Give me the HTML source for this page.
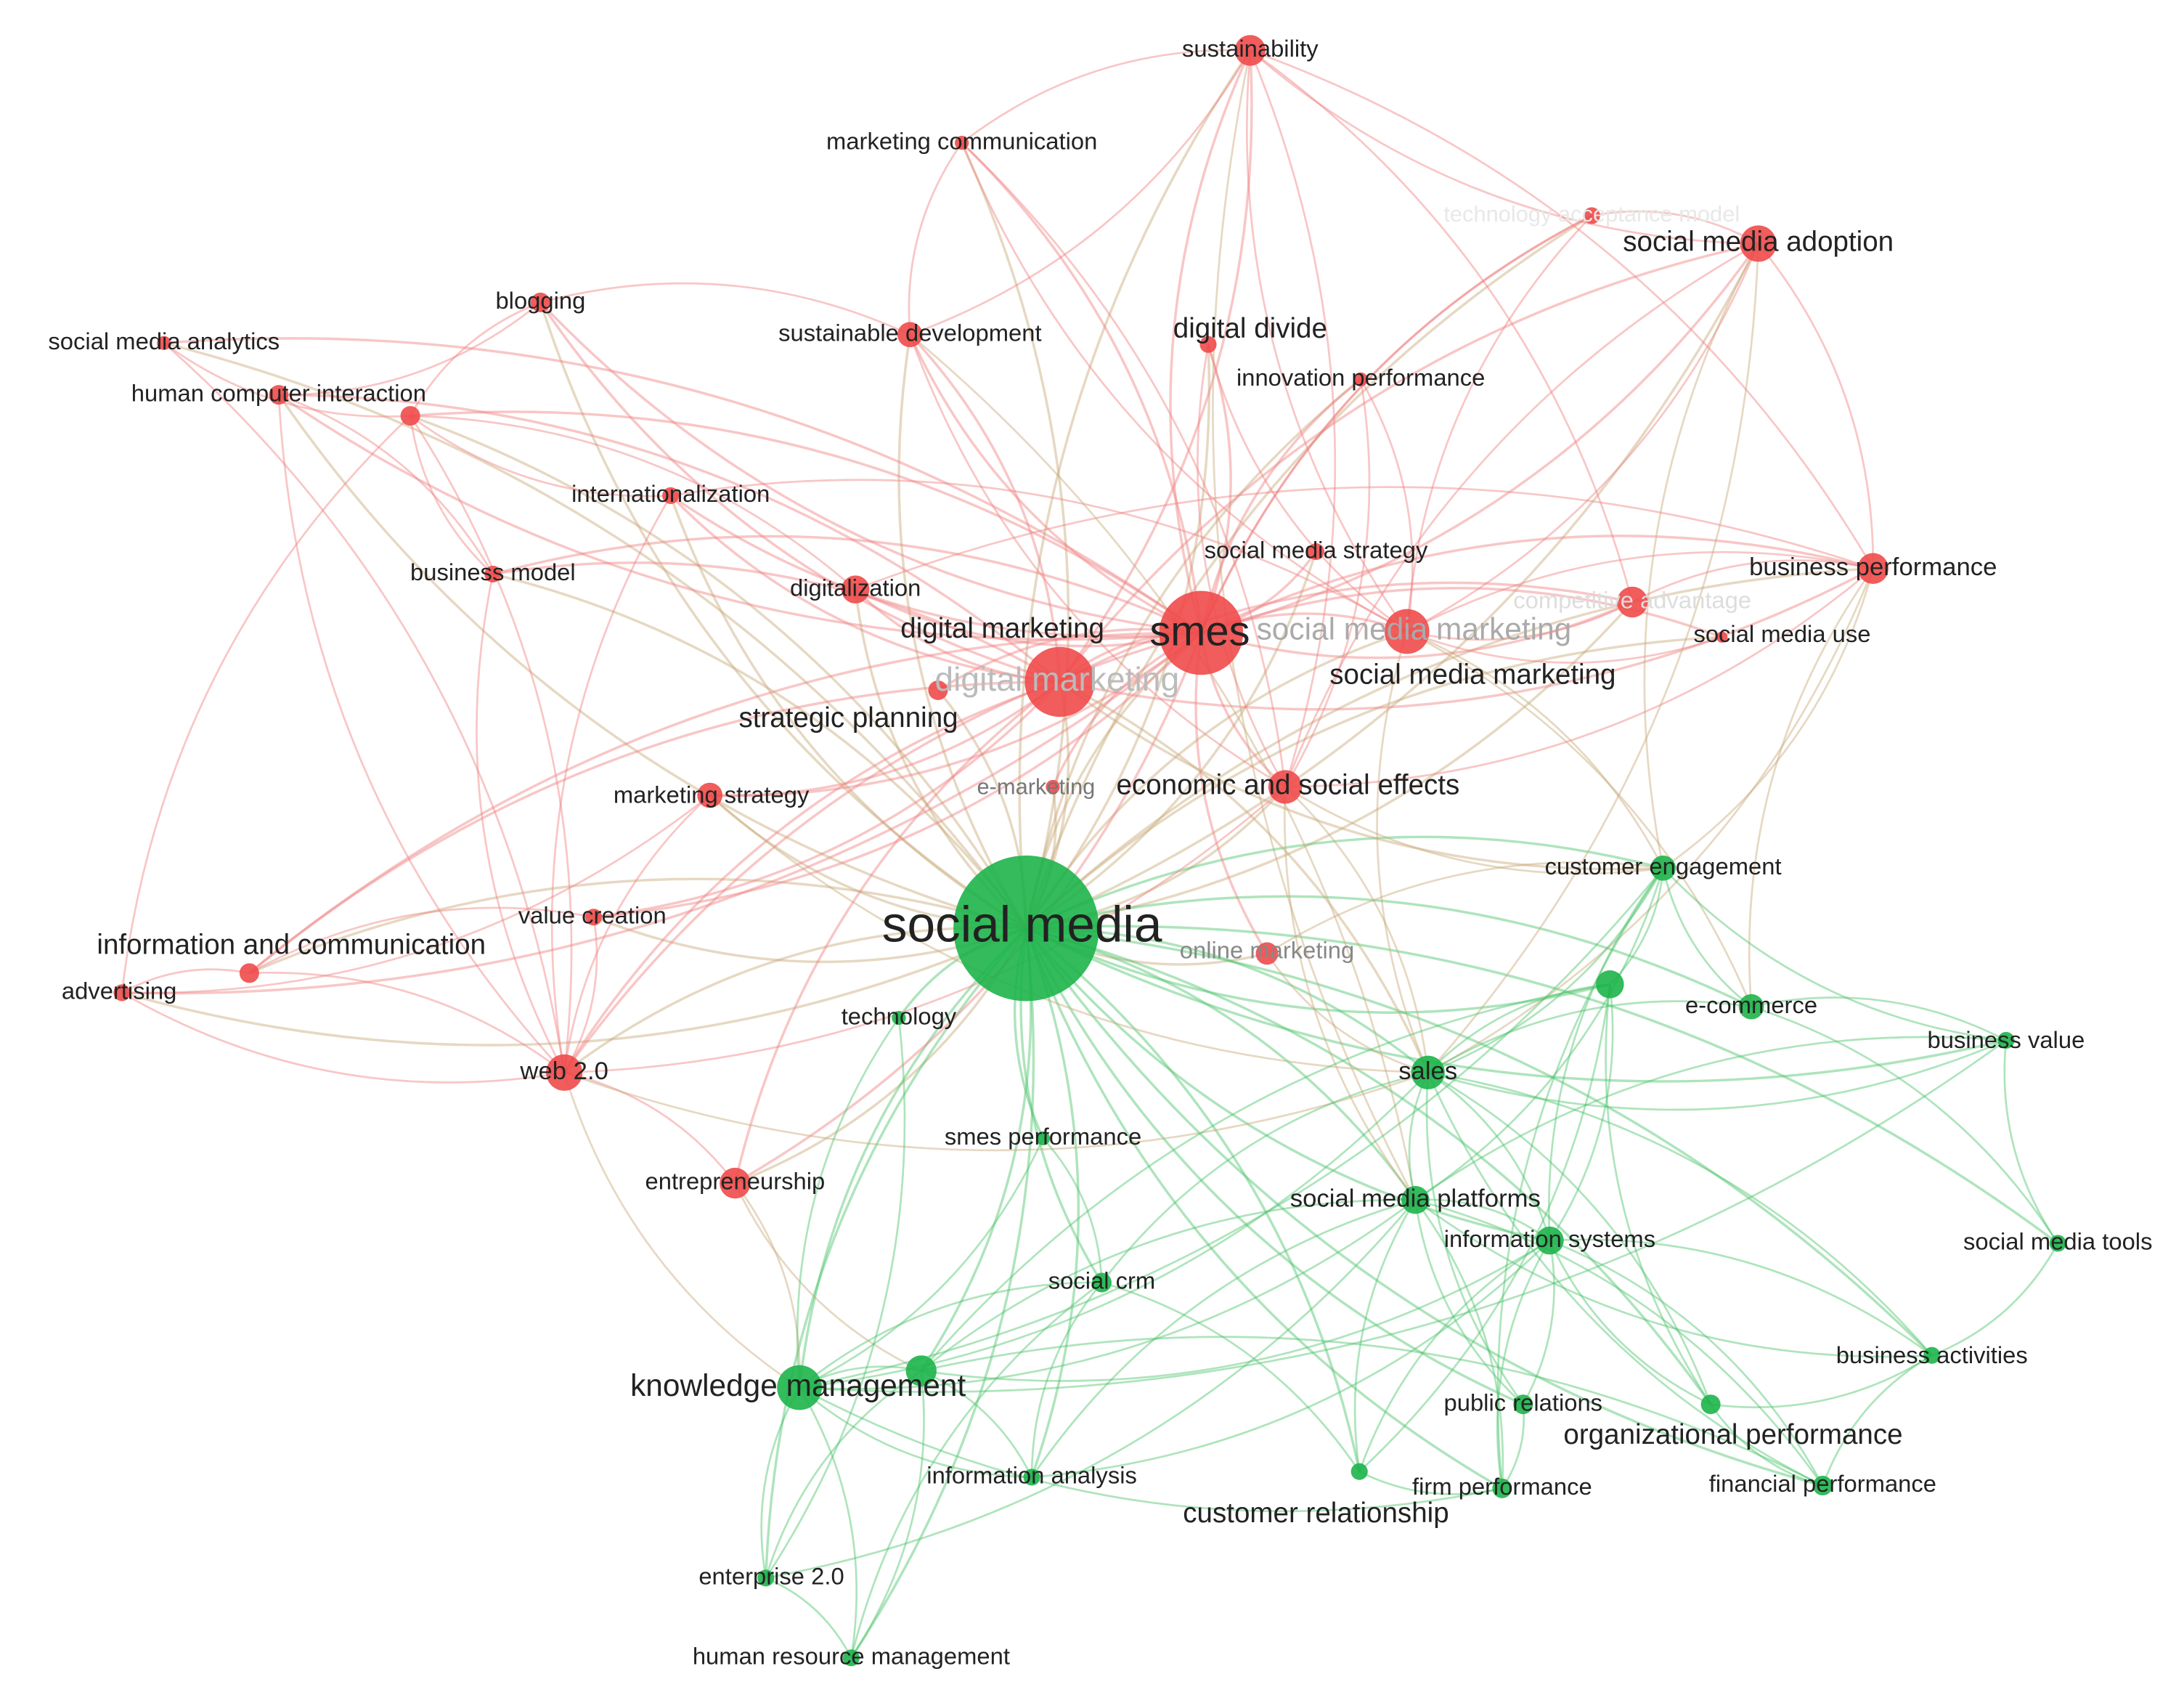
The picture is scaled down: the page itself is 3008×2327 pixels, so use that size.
<!DOCTYPE html>
<html><head><meta charset="utf-8"><style>
html,body{margin:0;padding:0;background:#fff;}
svg{display:block;}
text{font-family:"Liberation Sans",sans-serif;fill:#222;text-anchor:middle;dominant-baseline:middle;}
</style></head><body>
<svg id="s" width="3008" height="2327" viewBox="0 0 1560 1207" xmlns="http://www.w3.org/2000/svg">
<g id="edges" fill="none"></g>
<g id="nodes"></g>
<g id="labels">
<text x="893" y="36" font-size="17">sustainability</text>
<text x="687" y="102" font-size="17">marketing communication</text>
<text x="1137" y="154" font-size="16" style="fill:#e8e8e8">technology acceptance model</text>
<text x="1256" y="174" font-size="20">social media adoption</text>
<text x="386" y="216" font-size="17">blogging</text>
<text x="117" y="245" font-size="17">social media analytics</text>
<text x="650" y="239" font-size="17">sustainable development</text>
<text x="893" y="236" font-size="20">digital divide</text>
<text x="972" y="271" font-size="17">innovation performance</text>
<text x="199" y="282" font-size="17">human computer interaction</text>
<text x="479" y="354" font-size="17">internationalization</text>
<text x="940" y="394" font-size="17">social media strategy</text>
<text x="1338" y="406" font-size="18">business performance</text>
<text x="352" y="410" font-size="17">business model</text>
<text x="611" y="421" font-size="17">digitalization</text>
<text x="1166" y="430" font-size="17" style="fill:#ddd">competitive advantage</text>
<text x="716" y="450" font-size="20">digital marketing</text>
<text x="1010" y="451" font-size="22" style="fill:#aaa">social media marketing</text>
<text x="857" y="453" font-size="30">smes</text>
<text x="1273" y="454" font-size="17">social media use</text>
<text x="1052" y="483" font-size="20">social media marketing</text>
<text x="755" y="487" font-size="24" style="fill:#bbb">digital marketing</text>
<text x="606" y="514" font-size="20">strategic planning</text>
<text x="920" y="562" font-size="20">economic and social effects</text>
<text x="740" y="563" font-size="16" style="fill:#777">e-marketing</text>
<text x="508" y="569" font-size="17">marketing strategy</text>
<text x="1188" y="620" font-size="17">customer engagement</text>
<text x="423" y="655" font-size="17">value creation</text>
<text x="730" y="663" font-size="36">social media</text>
<text x="208" y="676" font-size="20">information and communication</text>
<text x="905" y="680" font-size="17" style="fill:#888">online marketing</text>
<text x="85" y="709" font-size="17">advertising</text>
<text x="1251" y="719" font-size="17">e-commerce</text>
<text x="642" y="727" font-size="17">technology</text>
<text x="1433" y="744" font-size="17">business value</text>
<text x="403" y="766" font-size="18">web 2.0</text>
<text x="1020" y="766" font-size="18">sales</text>
<text x="745" y="813" font-size="17">smes performance</text>
<text x="525" y="845" font-size="17">entrepreneurship</text>
<text x="1011" y="857" font-size="18">social media platforms</text>
<text x="1107" y="886" font-size="17">information systems</text>
<text x="1470" y="888" font-size="17">social media tools</text>
<text x="787" y="916" font-size="17">social crm</text>
<text x="1380" y="969" font-size="17">business activities</text>
<text x="570" y="991" font-size="22">knowledge management</text>
<text x="1088" y="1003" font-size="17">public relations</text>
<text x="1238" y="1026" font-size="20">organizational performance</text>
<text x="737" y="1055" font-size="17">information analysis</text>
<text x="1302" y="1061" font-size="17">financial performance</text>
<text x="1073" y="1063" font-size="17">firm performance</text>
<text x="940" y="1082" font-size="20">customer relationship</text>
<text x="551" y="1127" font-size="17">enterprise 2.0</text>
<text x="608" y="1184" font-size="17">human resource management</text>
</g>
</svg>
<script>
var N={
sm:[733,663,52,'g'],smes:[858,452,30,'r'],dm:[757,487,25,'r'],smm:[1005,451,16,'r'],ese:[918,562,12,'r'],
sus:[893,36,11,'r'],sma:[1256,174,13,'r'],bp:[1338,406,11,'r'],ca:[1166,430,11,'r'],tam:[1137,154,6,'r'],
dd:[863,246,6,'r'],ip:[972,271,5,'r'],sms:[940,394,6,'r'],sd:[650,239,9,'r'],mc:[687,102,5,'r'],
blog:[386,216,7,'r'],sman:[117,245,5,'r'],hci:[199,282,7,'r'],x1:[293,297,7,'r'],intl:[479,354,6,'r'],
bm:[352,410,6,'r'],dig:[611,421,10,'r'],sp:[670,493,7,'r'],mst:[507,568,9,'r'],em:[752,562,5,'r'],
vc:[424,655,6,'r'],ic:[178,695,7,'r'],adv:[87,709,6,'r'],web:[403,766,13,'r'],ent:[525,845,11,'r'],
om:[905,681,8,'r'],smu:[1230,455,4,'r'],
tech:[642,727,5,'g'],ce:[1188,620,9,'g'],ec1:[1150,703,10,'g'],ec:[1251,719,9,'g'],bv:[1433,743,6,'g'],
sal:[1020,766,12,'g'],smp:[745,813,5,'g'],smpl:[1011,857,10,'g'],is:[1107,886,10,'g'],smt:[1470,888,6,'g'],
crm:[787,916,7,'g'],ba:[1380,968,6,'g'],km:[571,991,16,'g'],km2:[658,979,11,'g'],pr:[1088,1003,7,'g'],
op:[1222,1003,7,'g'],fp:[1302,1061,7,'g'],cr:[971,1051,6,'g'],firm:[1073,1063,7,'g'],ia:[737,1055,6,'g'],
e2:[547,1127,6,'g'],hrm:[608,1184,6,'g']};
var keys=Object.keys(N);
var E=[];
keys.forEach(function(k){if(k!='sm')E.push(['sm',k]);});
var reds=keys.filter(function(k){return N[k][3]=='r';});
reds.forEach(function(k){if(k!='smes')E.push(['smes',k]);});
['sus','sma','bp','ca','sd','dig','web','mst','ent','vc','ic','blog','hci','intl','bm','sal','ce'].forEach(function(k){E.push(['dm',k]);});
['sus','sma','bp','ca','tam','smu','ce','sal','ec','ip','dd'].forEach(function(k){E.push(['smm',k]);});
['sus','sma','bp','sd','mc','web','ce','sal','smpl'].forEach(function(k){E.push(['ese',k]);});
E=E.concat([['blog','hci'],['blog','x1'],['blog','sd'],['sman','x1'],['sman','web'],['hci','web'],['hci','bm'],['x1','bm'],['x1','web'],['x1','intl'],['x1','dig'],
['ic','adv'],['ic','web'],['adv','web'],['adv','x1'],['adv','mst'],['ic','vc'],['bm','web'],['intl','smm'],['intl','web'],['sd','mc'],['sd','sus'],['mc','sus'],['mc','smm'],
['sus','ca'],['sus','sma'],['sus','bp'],['sus','smpl'],['tam','sma'],['tam','smes'],['sma','bp'],['sma','ce'],['sma','sal'],['bp','ca'],['bp','ce'],['bp','ec'],['bp','sal'],['bp','dig'],
['web','ent'],['web','km'],['web','mst'],['web','sal'],['ent','km'],['ent','km2'],['vc','web'],['mst','sal'],['sd','smpl'],['dd','ese'],['ip','ese'],
['km','e2'],['km','hrm'],['km','ia'],['km','km2'],['km2','e2'],['km2','hrm'],['km','smpl'],['km','crm'],['km2','is'],['e2','hrm'],['ia','km2'],['ia','smpl'],
['ce','ec'],['ce','ec1'],['ce','bv'],['ce','sal'],['ce','is'],['ce','smpl'],['ce','firm'],['ec','bv'],['ec','sal'],['ec','smt'],['ec1','sal'],['ec1','is'],['ec1','op'],['ec1','cr'],
['bv','smt'],['bv','sal'],['bv','smpl'],['bv','km'],['sal','smpl'],['sal','is'],['sal','pr'],['sal','op'],['sal','fp'],['sal','ba'],['sal','crm'],
['smpl','is'],['smpl','pr'],['smpl','firm'],['smpl','cr'],['smpl','fp'],['smpl','ba'],['is','pr'],['is','op'],['is','fp'],['is','firm'],['is','ba'],['is','cr'],
['smt','ba'],['ba','fp'],['ba','op'],['op','fp'],['pr','firm'],['cr','firm'],['crm','cr'],['crm','smp'],['smp','km'],['tech','km'],['tech','e2'],['om','sal'],['om','ce'],['fp','km2'],['firm','km'],
['km','sal'],['km2','smpl'],['e2','smpl'],['hrm','crm'],['ia','is'],['ia','crm'],['km','ce'],['km2','ec1']]);
var col={r:'#f08080',g:'#4cc46a'};
var eg=document.getElementById('edges'),ng=document.getElementById('nodes'),ns='http://www.w3.org/2000/svg';
E.forEach(function(e,i){var a=N[e[0]],b=N[e[1]];if(!a||!b)return;
var mx=(a[0]+b[0])/2,my=(a[1]+b[1])/2,dx=b[0]-a[0],dy=b[1]-a[1];
var off=0.18*((i%2)?1:-1);var cx=mx-dy*off,cy=my+dx*off;
var p=document.createElementNS(ns,'path');p.setAttribute('d','M'+a[0]+','+a[1]+' Q'+cx+','+cy+' '+b[0]+','+b[1]);
var c=(a[3]==b[3])?col[a[3]]:'#c8a878';
p.setAttribute('stroke',c);p.setAttribute('stroke-opacity',0.45);
p.setAttribute('stroke-width',(e[0]=='sm'||e[0]=='smes'||e[0]=='dm')?1.8:1.4);eg.appendChild(p);});
keys.forEach(function(k){var n=N[k];var c=document.createElementNS(ns,'circle');c.setAttribute('cx',n[0]);c.setAttribute('cy',n[1]);c.setAttribute('r',n[2]);
c.setAttribute('fill',n[3]=='r'?'#f04a4a':'#1db44a');c.setAttribute('fill-opacity',0.9);ng.appendChild(c);});
</script>
</body></html>
